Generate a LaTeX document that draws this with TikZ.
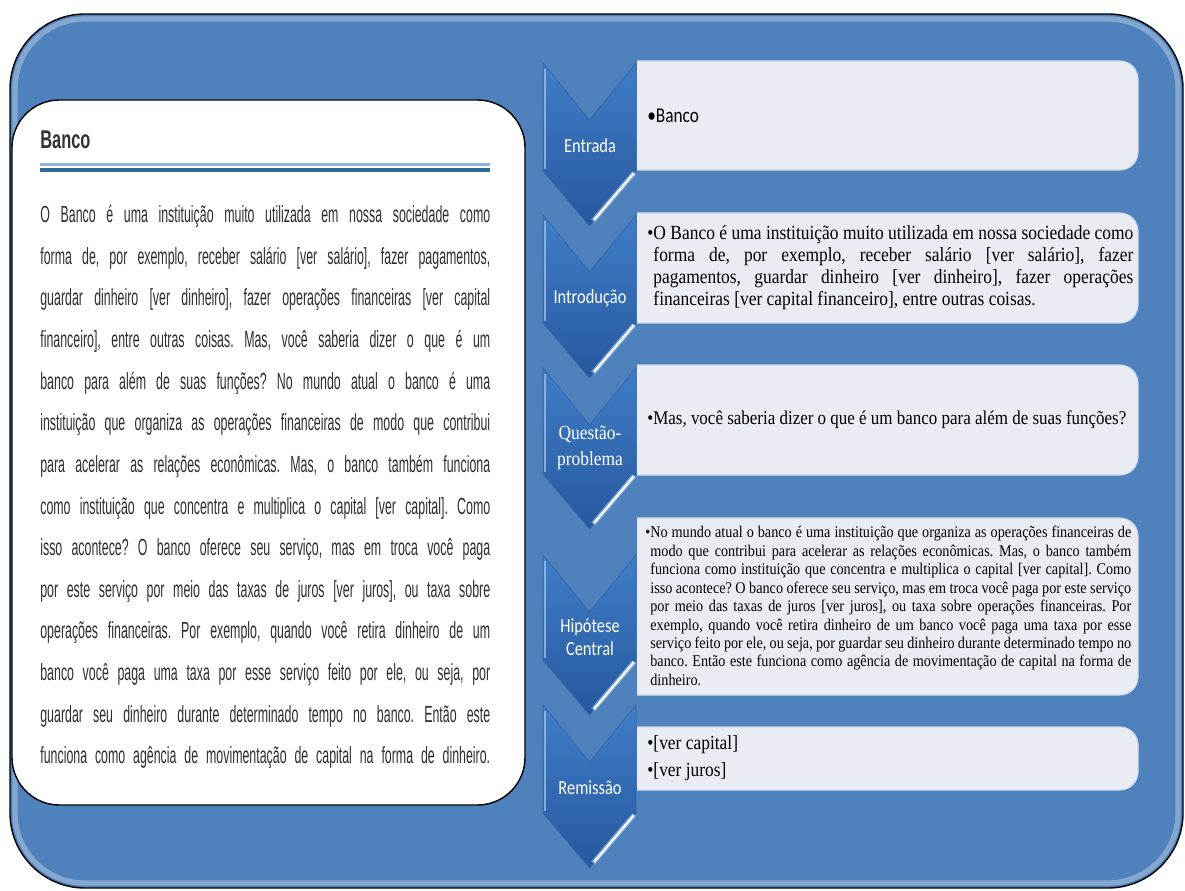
\documentclass[tikz,border=0pt]{standalone}
\usepackage{fontspec}
\setmainfont{Liberation Serif}
\newfontfamily\cardfont[FakeStretch=0.53]{Liberation Sans}
\newfontfamily\headfont[FakeStretch=0.64]{Liberation Sans}
\newfontfamily\tagfont[FakeStretch=0.82]{Carlito}
\newfontfamily\notefont[FakeStretch=0.87]{Liberation Serif}
\usetikzlibrary{positioning}
\definecolor{frameblue}{RGB}{79,129,189}
\definecolor{chevtop}{RGB}{64,126,200}
\definecolor{chevbot}{RGB}{38,88,158}
\definecolor{chevedge}{RGB}{52,102,170}
\definecolor{chevlight}{RGB}{150,190,235}
\definecolor{boxfill}{RGB}{233,236,242}
\definecolor{boxedge}{RGB}{205,218,236}
\definecolor{ruleblue}{RGB}{49,104,154}
\definecolor{rulelight}{RGB}{140,180,220}
\newcommand{\fillline}[1]{\makebox[9cm][s]{\spaceskip=0.12em plus 1fil minus 0.03em #1}}

\begin{document}
\frenchspacing
\begin{tikzpicture}[x=0.02cm, y=-0.02cm,
  frame/.style = {draw=black, line width=0.8pt, fill=frameblue, rounded corners=1.5cm},
   card/.style = {draw=black, line width=0.8pt, fill=white, rounded corners=0.95cm},
chevron/.style = {top color=chevtop, bottom color=chevbot, draw=chevedge, line width=0.4pt},
itembox/.style = {fill=boxfill, draw=boxedge, line width=0.6pt, rounded corners=0.36cm},
    tag/.style = {text=white, align=center, inner sep=0pt,
                  font={\tagfont\fontsize{11.4}{13}\selectfont}},
   note/.style = {text=black, inner sep=0pt, anchor=west,
                  font={\notefont\fontsize{11.4}{12.5}\selectfont\lineskiplimit=-5pt}},
   body/.style = {text=black!82, inner sep=0pt, text width=9cm, align=left,
                  font={\cardfont\fontsize{13.3}{23.7}\selectfont}}]

\useasboundingbox (0,0) rectangle (1185,891);

% frame and card
\draw[frame] (10,14) rectangle (1183,888);
\draw[white, opacity=.3, line width=3pt, rounded corners=1.4cm] (15,19) rectangle (1178,883);
\draw[card] (12,100) rectangle (525,805);

% heading of the card
\node[anchor=base west, inner sep=0pt, text=black!80,
      font={\headfont\bfseries\fontsize{14.6}{16}\selectfont}] (title) at (40,149) {Banco};
\draw[rulelight, line width=1.7pt] (40,164.5) -- (490,164.5);
\draw[ruleblue, line width=2.2pt] (40,170) -- (490,170);

\node[body, anchor=north west] (bodytext) at (40,205) {%
\fillline{O Banco é uma instituição muito utilizada em nossa sociedade como}\\
\fillline{forma de, por exemplo, receber salário [ver salário], fazer pagamentos,}\\
\fillline{guardar dinheiro [ver dinheiro], fazer operações financeiras [ver capital}\\
\fillline{financeiro], entre outras coisas. Mas, você saberia dizer o que é um}\\
\fillline{banco para além de suas funções? No mundo atual o banco é uma}\\
\fillline{instituição que organiza as operações financeiras de modo que contribui}\\
\fillline{para acelerar as relações econômicas. Mas, o banco também funciona}\\
\fillline{como instituição que concentra e multiplica o capital [ver capital]. Como}\\
\fillline{isso acontece? O banco oferece seu serviço, mas em troca você paga}\\
\fillline{por este serviço por meio das taxas de juros [ver juros], ou taxa sobre}\\
\fillline{operações financeiras. Por exemplo, quando você retira dinheiro de um}\\
\fillline{banco você paga uma taxa por esse serviço feito por ele, ou seja, por}\\
\fillline{guardar seu dinheiro durante determinado tempo no banco. Então este}\\
\fillline{funciona como agência de movimentação de capital na forma de dinheiro.}};

% boxes
\begin{scope}
\clip (637,0) rectangle (1185,891);
\foreach \t/\b in {61/170, 213/323, 365/475, 518/695, 727/790}
  \path[itembox] (600,\t) rectangle (1138,\b);
\end{scope}

% chevrons
\foreach \t/\s in {63/171, 215/323, 368/474, 555/660, 705/813} {
  \path[chevron] (543,\t) -- ({589.5},{\t+57}) -- (636,\t) -- (636,\s)
                 -- ({589.5},{\s+55}) -- (543,\s) -- cycle;
  \draw[chevlight, line width=1.5pt, opacity=.8] (545,{\t+6}) -- (545,{\s-2});
  \draw[chevlight, line width=3pt, opacity=.5] (634,{\s+2}) -- (593,{\s+50});
  \draw[white, line width=1.5pt, opacity=.9] (634,{\s+2}) -- (594,{\s+49});
}

\node[tag] (entrada)  at (590,146) {Entrada};
\node[tag] (intro)    at (590,298) {Introdução};
\node[tag, font={\notefont\fontsize{11.4}{14.8}\selectfont}] (questao) at (590,448) {Questão-\\problema};
\node[tag] (hipotese) at (590,637) {Hipótese\\Central};
\node[tag] (remissao) at (590,788) {Remissão};

% texts of the boxes
\node[note, font={\tagfont\fontsize{12}{14}\selectfont}] (b1) at (647,116) {\textbullet Banco};
\node[note] (b2) at (647,268) {\textbullet\parbox[t]{9.6cm}{O Banco é uma instituição muito utilizada em nossa sociedade como\linebreak
forma de, por exemplo, receber salário [ver salário], fazer\linebreak
pagamentos, guardar dinheiro [ver dinheiro], fazer operações\linebreak
financeiras [ver capital financeiro], entre outras coisas.}};
\node[note, font={\notefont\fontsize{11.1}{12.5}\selectfont}] (b3) at (647,420) {\textbullet Mas, você saberia dizer o que é um banco para além de suas funções?};
\node[note, font={\notefont\fontsize{9.3}{10.5}\selectfont\lineskiplimit=-5pt}] (b4) at (645,606) {\textbullet\parbox[t]{9.62cm}{No mundo atual o banco é uma instituição que organiza as operações financeiras de\linebreak
modo que contribui para acelerar as relações econômicas. Mas, o banco também\linebreak
funciona como instituição que concentra e multiplica o capital [ver capital]. Como\linebreak
isso acontece? O banco oferece seu serviço, mas em troca você paga por este serviço\linebreak
por meio das taxas de juros [ver juros], ou taxa sobre operações financeiras. Por\linebreak
exemplo, quando você retira dinheiro de um banco você paga uma taxa por esse\linebreak
serviço feito por ele, ou seja, por guardar seu dinheiro durante determinado tempo no\linebreak
banco. Então este funciona como agência de movimentação de capital na forma de\linebreak
dinheiro.}};
\node[note, align=left, font={\notefont\fontsize{11.4}{15.4}\selectfont}] (b5) at (647,758) {\textbullet[ver capital]\\\textbullet[ver juros]};

\end{tikzpicture}
\end{document}
